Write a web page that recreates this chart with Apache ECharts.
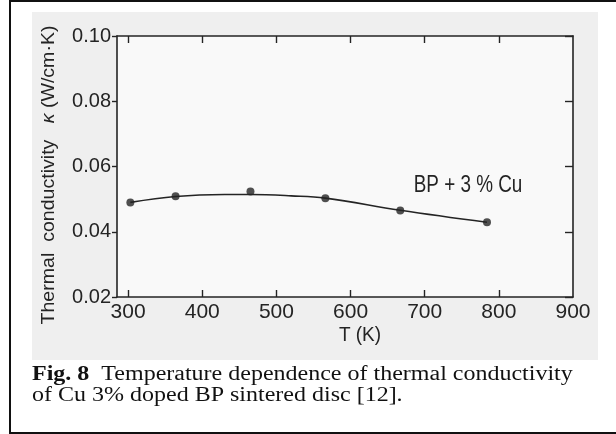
<!DOCTYPE html>
<html>
<head>
<meta charset="utf-8">
<script src="https://cdn.jsdelivr.net/npm/echarts@6/dist/echarts.min.js"></script>
<style>
  html, body { margin: 0; padding: 0; background: #fff; }
  #chart { width: 616px; height: 434px; }
</style>
</head>
<body>
<div id="chart"></div>
<script>
// measured points
const tData = [303, 364, 465, 566, 667, 784]
const kData = [0.0490, 0.0509, 0.0523, 0.0503, 0.0465, 0.0429]

// fitted curve as drawn in the figure
const curveT = [303, 364, 430, 465, 520, 566, 667, 784]
const curveK = [0.0490, 0.0508, 0.0514, 0.0514, 0.0510, 0.0503, 0.0466, 0.0429]

// tick labels
const xTicks = [300, 400, 500, 600, 700, 800, 900]
const xInnerTicks = [300, 400, 500, 600, 700, 800]

const seriesLabel = 'BP + 3 % Cu'
const xName = 'T (K)'
const captionBold = 'Fig. 8'
const captionLine1 = 'Temperature dependence of thermal conductivity'
const captionLine2 = 'of Cu 3% doped BP sintered disc [12].'

const ink = '#242424'
const sans = "'Liberation Sans', Arial, sans-serif"
const serif = "'Liberation Serif', 'DejaVu Serif', serif"

const chart = echarts.init(document.getElementById('chart'), null, { renderer: 'canvas' })

const frameLine = { show: true, lineStyle: { color: ink, width: 1.6 } }

const option = {
  backgroundColor: '#fff',
  animation: false,
  grid: {
    left: 117, right: 43, top: 36, bottom: 137,
    show: true, backgroundColor: '#f9f9f9', borderWidth: 0
  },
  xAxis: [
    {
      type: 'value', position: 'bottom', min: 285, max: 900,
      axisLine: frameLine,
      axisTick: { show: true, inside: true, length: 7, customValues: xInnerTicks, lineStyle: { color: ink, width: 1.4 } },
      axisLabel: { customValues: xTicks, margin: 5, fontSize: 21, fontFamily: sans, color: ink },
      splitLine: { show: false }
    },
    {
      type: 'value', position: 'top', min: 285, max: 900,
      axisLine: frameLine,
      axisTick: { show: true, inside: true, length: 7, customValues: xInnerTicks, lineStyle: { color: ink, width: 1.4 } },
      axisLabel: { show: false },
      splitLine: { show: false }
    }
  ],
  yAxis: [
    {
      type: 'value', position: 'left', min: 0.02, max: 0.10, interval: 0.02,
      axisLine: frameLine,
      axisTick: { show: true, inside: false, length: 5, lineStyle: { color: ink, width: 1.4 } },
      axisLabel: {
        margin: 6, fontSize: 20, fontFamily: sans, color: ink,
        formatter: v => v.toFixed(2)
      },
      splitLine: { show: false }
    },
    {
      type: 'value', position: 'right', min: 0.02, max: 0.10, interval: 0.02,
      axisLine: frameLine,
      axisTick: { show: true, inside: true, length: 8, lineStyle: { color: ink, width: 1.4 } },
      axisLabel: { show: false },
      splitLine: { show: false }
    }
  ],
  series: [
    {
      name: 'fit',
      type: 'line',
      smooth: 0.4,
      showSymbol: false,
      lineStyle: { color: ink, width: 1.6 },
      data: curveT.map((t, i) => [t, curveK[i]])
    },
    {
      name: seriesLabel,
      type: 'scatter',
      symbolSize: 8,
      itemStyle: { color: ink },
      data: tData.map((t, i) => [t, kData[i]])
    }
  ],
  graphic: [
    {
      type: 'rect', silent: true, z: -20,
      shape: { x: 32, y: 12, width: 566, height: 348 },
      style: { fill: '#efefef' }
    },
    {
      type: 'rect', silent: true, z: 100,
      shape: { x: 10, y: 1, width: 640, height: 432 },
      style: { fill: 'none', stroke: '#111', lineWidth: 2 }
    },
    {
      type: 'text', x: 468, y: 186, scaleX: 0.82,
      style: { text: seriesLabel, fill: ink, font: '23px ' + sans, textAlign: 'center', textVerticalAlign: 'middle' }
    },
    {
      type: 'text', x: 360, y: 335, scaleX: 0.95,
      style: { text: xName, fill: ink, font: '20px ' + sans, textAlign: 'center', textVerticalAlign: 'middle' }
    },
    {
      type: 'text', x: 49, y: 175, rotation: Math.PI / 2, scaleX: 1.03,
      style: {
        text: 'Thermal  conductivity   {k|κ} (W/cm·K)',
        fill: ink, font: '19px ' + sans, textAlign: 'center', textVerticalAlign: 'middle',
        rich: { k: { fontStyle: 'italic', fontSize: 19, fontFamily: sans, fill: ink } }
      }
    },
    {
      type: 'text', x: 32, y: 375, scaleX: 1.2,
      style: {
        text: '{b|' + captionBold + '}  ' + captionLine1,
        fill: '#111', font: '20px ' + serif, textVerticalAlign: 'middle',
        rich: { b: { fontWeight: 'bold', fontSize: 20, fontFamily: serif, fill: '#111' } }
      }
    },
    {
      type: 'text', x: 32, y: 396, scaleX: 1.2,
      style: { text: captionLine2, fill: '#111', font: '20px ' + serif, textVerticalAlign: 'middle' }
    }
  ]
}

chart.setOption(option)
</script>
</body>
</html>
